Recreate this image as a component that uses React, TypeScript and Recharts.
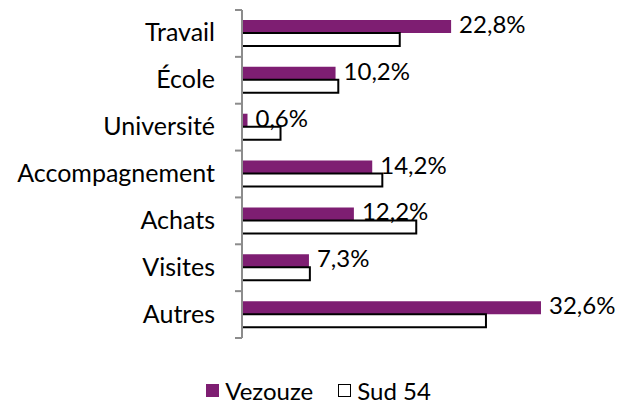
import { Bar, BarChart, LabelList, Legend, XAxis, YAxis } from 'recharts';

const CATEGORIES = ['Travail', 'École', 'Université', 'Accompagnement', 'Achats', 'Visites', 'Autres'];
const VEZOUZE = [22.8, 10.2, 0.6, 14.2, 12.2, 7.3, 32.6];
const SUD_54 = [17.2, 10.5, 4.2, 15.3, 19.0, 7.4, 26.6];

const PURPLE = '#7e1e72';
const AXIS_GREY = '#8c8c8c';
const FONT = 'Lato, "Open Sans", sans-serif';

const CHART_W = 629;
const CHART_H = 405;
const MARGIN = { top: 10, right: 66, bottom: 37, left: 0 };
const LEGEND_H = 30;
const PLOT_H = CHART_H - MARGIN.top - MARGIN.bottom - LEGEND_H;
const BAND = PLOT_H / CATEGORIES.length;

const rows = CATEGORIES.map((name, i) => ({ name, vezouze: VEZOUZE[i], sud54: SUD_54[i] }));

const fmt = (v: number) => `${v.toFixed(1).replace('.', ',')}%`;

const CategoryTick = (props: any) => {
  const { x, y, payload, index } = props;
  const isLast = index === CATEGORIES.length - 1;
  return (
    <g>
      <line x1={x - 7} x2={x} y1={y - BAND / 2} y2={y - BAND / 2} stroke={AXIS_GREY} strokeWidth={2} />
      {isLast && <line x1={x - 7} x2={x} y1={y + BAND / 2} y2={y + BAND / 2} stroke={AXIS_GREY} strokeWidth={2} />}
      <text x={x - 27} y={y - 2} textAnchor="end" dominantBaseline="central" fontSize={25} fill="#000" fontFamily={FONT}>
        {payload.value}
      </text>
    </g>
  );
};

const ValueLabel = (props: any) => {
  const { x, y, width, height, value } = props;
  return (
    <text
      x={Number(x) + Number(width) + 8}
      y={Number(y) + Number(height) / 2 - 3}
      dominantBaseline="central"
      fontSize={24}
      fill="#000"
      fontFamily={FONT}
    >
      {fmt(Number(value))}
    </text>
  );
};

const LegendContent = () => (
  <div
    style={{
      height: LEGEND_H,
      display: 'flex',
      justifyContent: 'center',
      alignItems: 'center',
      gap: 25,
      fontFamily: FONT,
      fontSize: 24,
      color: '#000',
      paddingLeft: 8,
    }}
  >
    <span style={{ display: 'flex', alignItems: 'center', gap: 6 }}>
      <span style={{ width: 13, height: 13, background: PURPLE, display: 'inline-block' }} />
      Vezouze
    </span>
    <span style={{ display: 'flex', alignItems: 'center', gap: 6 }}>
      <span style={{ width: 11, height: 11, background: '#fff', border: '1.5px solid #000', display: 'inline-block' }} />
      Sud 54
    </span>
  </div>
);

export default function App() {
  return (
    <div style={{ position: 'absolute', left: 0, top: 0, background: '#fff' }}>
      <BarChart width={CHART_W} height={CHART_H} data={rows} layout="vertical" margin={MARGIN} barGap={0}>
        <XAxis type="number" domain={[0, 35]} hide />
        <YAxis
          type="category"
          dataKey="name"
          width={242}
          tickLine={false}
          tickSize={0}
          tickMargin={0}
          axisLine={{ stroke: AXIS_GREY, strokeWidth: 2 }}
          tick={<CategoryTick />}
          interval={0}
        />
        <Legend
          verticalAlign="bottom"
          content={<LegendContent />}
          wrapperStyle={{ bottom: 0, left: 0, width: CHART_W, height: LEGEND_H }}
        />
        <Bar dataKey="vezouze" name="Vezouze" fill={PURPLE} barSize={13} isAnimationActive={false}>
          <LabelList dataKey="vezouze" content={<ValueLabel />} />
        </Bar>
        <Bar dataKey="sud54" name="Sud 54" fill="#fff" stroke="#000" strokeWidth={2} barSize={13} isAnimationActive={false} />
      </BarChart>
    </div>
  );
}
